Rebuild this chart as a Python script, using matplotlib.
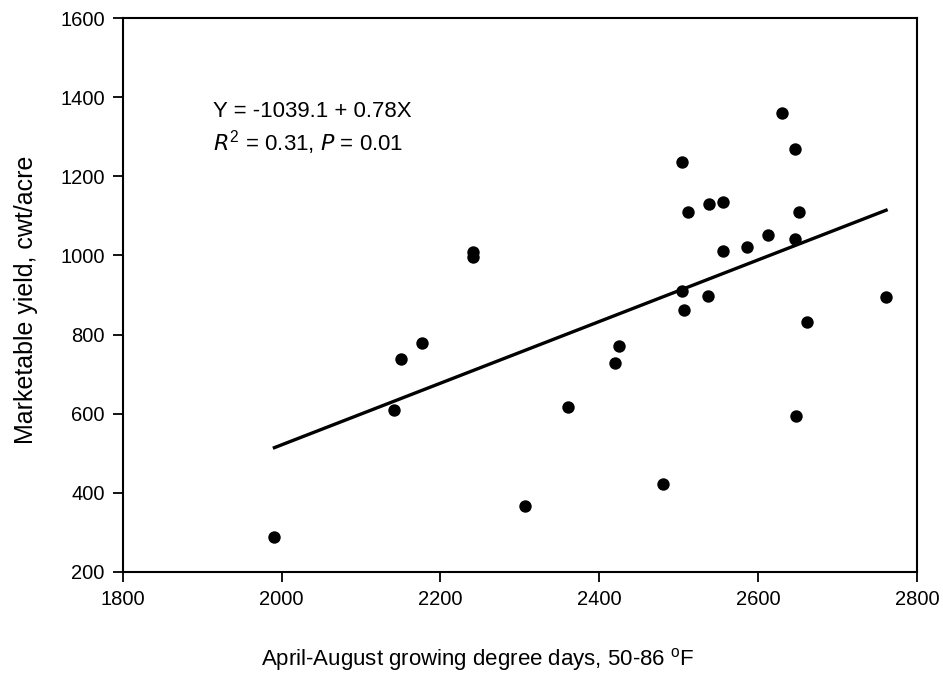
import matplotlib
matplotlib.use("Agg")
import matplotlib.pyplot as plt
import numpy as np

plt.rcParams["font.family"] = ["Liberation Sans", "DejaVu Sans"]

# Growing degree days (x) and marketable yield (y)
gdd = [1991, 2141, 2150, 2177, 2241, 2241, 2307, 2360, 2420, 2425,
       2480, 2504, 2504, 2506, 2512, 2537, 2538, 2556, 2556, 2586,
       2612, 2630, 2646, 2646, 2648, 2652, 2661, 2761]
yld = [288, 608, 737, 779, 1010, 997, 365, 617, 727, 771,
       423, 1236, 909, 861, 1111, 898, 1130, 1134, 1011, 1021,
       1052, 1361, 1269, 1041, 595, 1110, 832, 894]

INTERCEPT = -1039.1
SLOPE = 0.78

fig = plt.figure(figsize=(9.43, 6.77), dpi=100)
ax = fig.add_axes([0.1301, 0.1555, 0.8424, 0.8175])

ax.scatter(gdd, yld, s=80, color="black", zorder=3, linewidths=0)
xfit = np.array([min(gdd), max(gdd)])
ax.plot(xfit, INTERCEPT + SLOPE * xfit, color="black", lw=2.4)

ax.set_xlim(1800, 2800)
ax.set_ylim(200, 1600)
ax.set_xticks(np.arange(1800, 2801, 200))
ax.set_yticks(np.arange(200, 1601, 200))
ax.tick_params(direction="out", length=7, width=1.3, labelsize=14.5, pad=6)
for s in ax.spines.values():
    s.set_linewidth(1.5)

ax.set_xlabel("April-August growing degree days, 50-86 $^{\\mathregular{o}}$F",
              fontsize=16)
ax.xaxis.set_label_coords(0.447, -0.135)
ax.set_ylabel("Marketable yield, cwt/acre", fontsize=18)
ax.yaxis.set_label_coords(-0.107, 0.491)

ax.text(1914, 1365, "Y = -1039.1 + 0.78X", fontsize=16, va="center")
ax.text(1914, 1285, "$\\mathit{R}^{\\mathregular{2}}$ = 0.31, $\\mathit{P}$ = 0.01",
        fontsize=16, va="center")

fig.savefig("out.png", dpi=100)
